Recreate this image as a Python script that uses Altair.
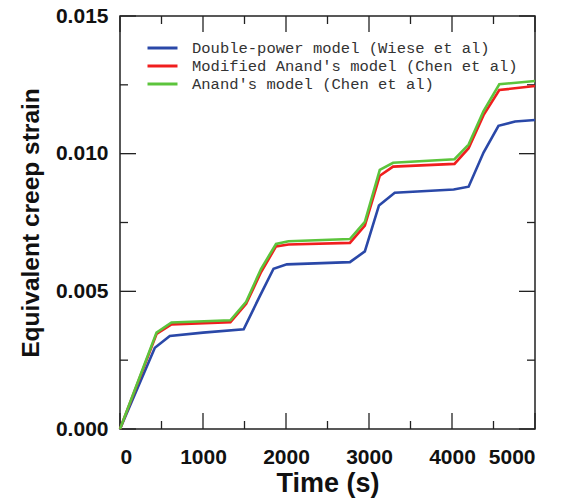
import altair as alt
import pandas as pd

# ---- data ----
series_names = [
    "Double-power model (Wiese et al)",
    "Modified Anand's model (Chen et al)",
    "Anand's model (Chen et al)",
]
series_colors = ["#2a48a8", "#f01e1e", "#5cc43c"]

time_blue = [0, 420, 600, 1000, 1490, 1680, 1850, 2010, 2770, 2950, 3120, 3310, 4020, 4200, 4380, 4560, 4760, 5000]
strain_blue = [0.0, 0.00295, 0.00338, 0.00350, 0.00362, 0.00480, 0.00582, 0.00598, 0.00606, 0.00645, 0.00812,
               0.00858, 0.00870, 0.00880, 0.01004, 0.01101, 0.01117, 0.01122]

time_red = [0, 440, 620, 1330, 1520, 1700, 1880, 2030, 2770, 2950, 3130, 3290, 4030, 4200, 4380, 4570, 5000]
strain_red = [0.0, 0.00345, 0.00380, 0.00388, 0.00455, 0.00570, 0.00663, 0.00670, 0.00676, 0.00739, 0.00920,
              0.00953, 0.00963, 0.01020, 0.01140, 0.01231, 0.01246]

time_green = [0, 440, 620, 1330, 1520, 1700, 1880, 2030, 2770, 2950, 3130, 3290, 4030, 4200, 4380, 4570, 5000]
strain_green = [0.0, 0.00350, 0.00387, 0.00395, 0.00462, 0.00582, 0.00672, 0.00682, 0.00690, 0.00752, 0.00941,
                0.00967, 0.00980, 0.01033, 0.01155, 0.01252, 0.01264]

x_major = [0, 1000, 2000, 3000, 4000, 5000]
x_minor = [500, 1500, 2500, 3500, 4500]
y_major = [0.0, 0.005, 0.010, 0.015]
y_minor = [0.0025, 0.0075, 0.0125]

W, H = 415, 413
MAJ, MIN = 16, 8

rows = []
for name, ts, vs in zip(series_names, [time_blue, time_red, time_green],
                        [strain_blue, strain_red, strain_green]):
    for i, (t, v) in enumerate(zip(ts, vs)):
        rows.append({"series": name, "time": t, "strain": v, "order": i})
df = pd.DataFrame(rows)

xs = alt.Scale(domain=[0, 5000], nice=False, zero=False)
ys = alt.Scale(domain=[0, 0.015], nice=False, zero=False)

lines = alt.Chart(df).mark_line(strokeWidth=2.6).encode(
    x=alt.X("time:Q", scale=xs,
            axis=alt.Axis(title="Time (s)", values=x_major, format="d", ticks=False, domain=False,
                          grid=False, labelPadding=17, titlePadding=3, titleFontSize=27)),
    y=alt.Y("strain:Q", scale=ys,
            axis=alt.Axis(title="Equivalent creep strain", values=y_major, format=".3f", ticks=False,
                          domain=False, grid=False, labelPadding=12, titlePadding=12,
                          titleFontSize=24.5)),
    color=alt.Color("series:N",
                    scale=alt.Scale(domain=series_names, range=series_colors),
                    sort=series_names,
                    legend=alt.Legend(title=None, orient="none", legendX=33.5, legendY=23,
                                      symbolType="M-2,0H2", symbolSize=225, symbolStrokeWidth=3,
                                      labelFont="Liberation Mono", labelFontSize=15.5,
                                      labelColor="#333333", rowPadding=-1, labelOffset=20.5,
                                      padding=0, labelLimit=500)),
    order="order:Q",
    detail="series:N",
)


def xticks(vals, length, side):
    d = pd.DataFrame({"time": vals})
    if side == "bottom":
        y1, y2 = H, H - length
    else:
        y1, y2 = 0, length
    return alt.Chart(d).mark_rule(color="#222222", strokeWidth=1.3).encode(
        x=alt.X("time:Q", scale=xs), y=alt.value(y1), y2=alt.value(y2))


def yticks(vals, length, side):
    d = pd.DataFrame({"strain": vals})
    if side == "left":
        x1, x2 = 0, length
    else:
        x1, x2 = W, W - length
    return alt.Chart(d).mark_rule(color="#222222", strokeWidth=1.3).encode(
        y=alt.Y("strain:Q", scale=ys), x=alt.value(x1), x2=alt.value(x2))


ticks = [
    xticks(x_major, MAJ, "bottom"), xticks(x_minor, MIN, "bottom"),
    xticks(x_major, MAJ, "top"), xticks(x_minor, MIN, "top"),
    yticks(y_major, MAJ, "left"), yticks(y_minor, MIN, "left"),
    yticks(y_major, MAJ, "right"), yticks(y_minor, MIN, "right"),
]

chart = alt.layer(*ticks, lines).properties(
    width=W, height=H,
    autosize=alt.AutoSizeParams(type="none"),
    padding={"left": 112, "top": 8, "right": 15, "bottom": 70},
).configure_view(
    stroke="#222222", strokeWidth=1.5
).configure_axis(
    labelFont="Liberation Sans", labelFontSize=21, labelFontWeight="bold", labelColor="#111111",
    titleFont="Liberation Sans", titleFontWeight="bold", titleColor="#111111",
)

chart.save("out.html", embed_options={"renderer": "svg", "actions": False})
